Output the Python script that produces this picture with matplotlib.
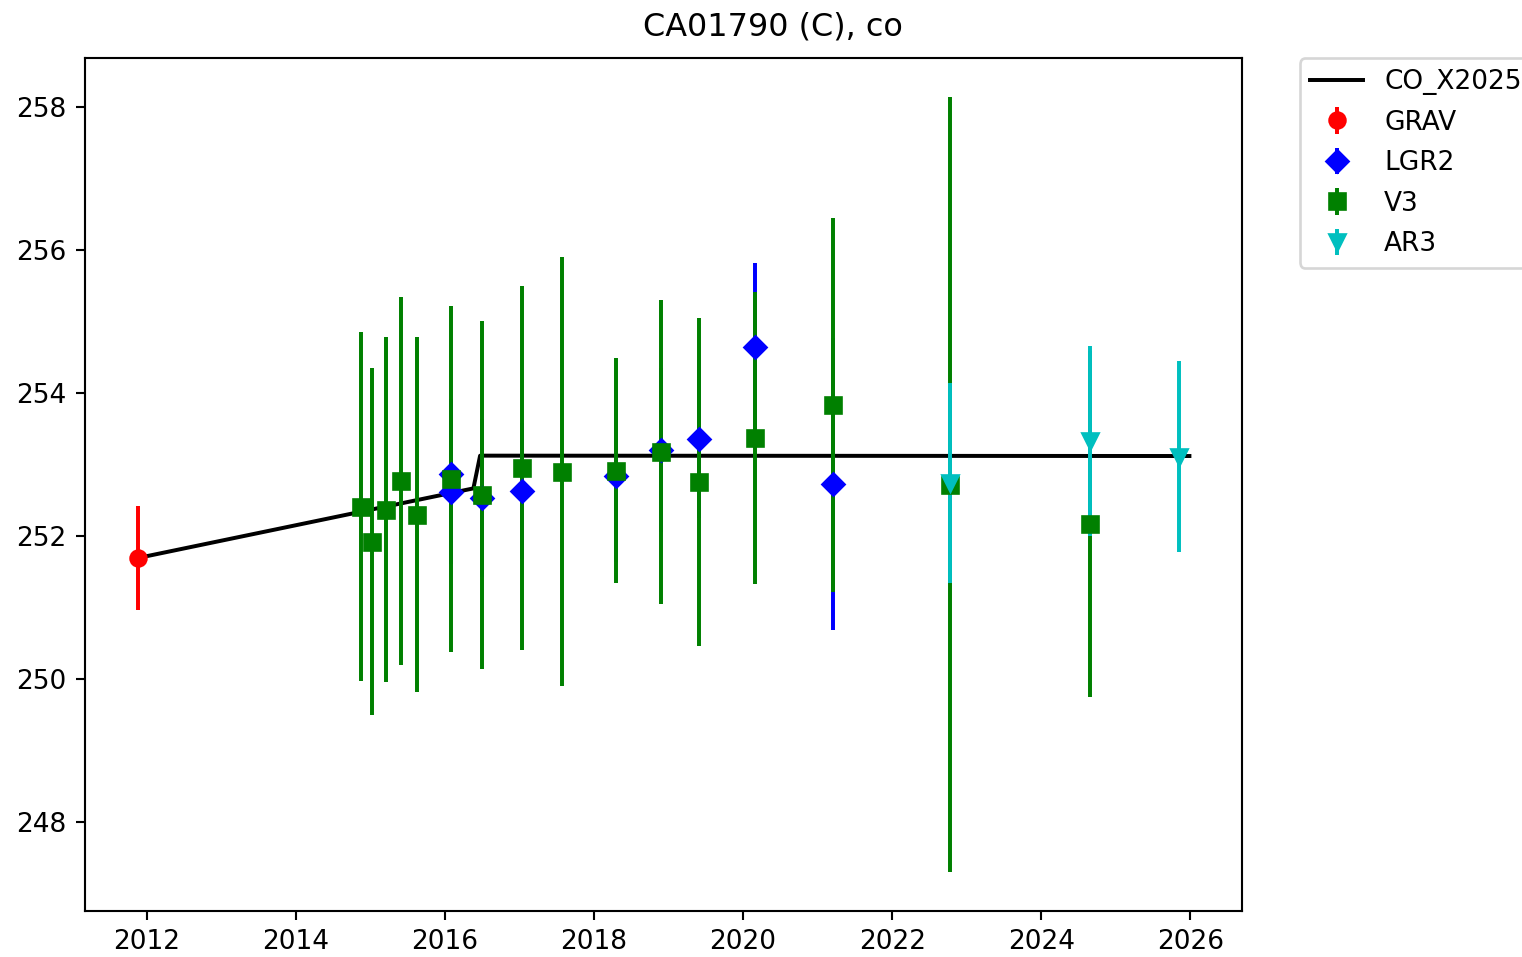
import matplotlib
matplotlib.use("Agg")
import matplotlib.pyplot as plt

# Model curve
model_t = [2011.873, 2016.38, 2016.47, 2025.99]
model_h = [251.692, 252.667, 253.125, 253.12]

# Gravimetric observation
grav_t = [2011.873]
grav_h = [251.692]
grav_err = [0.73]

# LGR2 solutions
lgr2_t = [2016.08, 2016.08, 2016.497, 2017.03, 2018.29, 2018.897, 2019.406, 2020.157, 2021.20]
lgr2_h = [252.867, 252.615, 252.531, 252.629, 252.839, 253.203, 253.357, 254.643, 252.727]
lgr2_err = [1.05, 1.00, 1.10, 0.95, 1.20, 1.15, 1.10, 1.18, 2.04]

# V3 solutions
v3_t = [2014.875, 2015.023, 2015.21, 2015.41, 2015.625, 2016.08, 2016.497, 2017.03,
        2017.57, 2018.29, 2018.897, 2019.406, 2020.157, 2021.20, 2022.78, 2024.66]
v3_h = [252.413, 251.923, 252.371, 252.769, 252.301, 252.797, 252.573, 252.951,
        252.902, 252.916, 253.175, 252.755, 253.371, 253.832, 252.720, 252.168]
v3_err = [2.448, 2.427, 2.413, 2.573, 2.483, 2.420, 2.434, 2.545,
          3.000, 1.573, 2.126, 2.294, 2.040, 2.615, 5.420, 2.420]

# AR3 solutions
ar3_t = [2022.78, 2024.66, 2025.85]
ar3_h = [252.741, 253.336, 253.112]
ar3_err = [1.40, 1.33, 1.336]

W, H, DPI = 1522, 957, 190
fig = plt.figure(figsize=(W / DPI, H / DPI), dpi=DPI)
ax = fig.add_axes([85 / W, 1 - 910.7 / H, (1242 - 85) / W, (910.7 - 58.5) / H])

ax.plot(model_t, model_h, 'k-', label='CO_X2025')
ax.errorbar(grav_t, grav_h, yerr=grav_err, fmt='ro', label='GRAV')
ax.errorbar(lgr2_t, lgr2_h, yerr=lgr2_err, fmt='bD', label='LGR2')
ax.errorbar(v3_t, v3_h, yerr=v3_err, fmt='gs', label='V3')
ax.errorbar(ar3_t, ar3_h, yerr=ar3_err, fmt='cv', label='AR3')

ax.set_xticks([2012, 2014, 2016, 2018, 2020, 2022, 2024, 2026])
ax.set_yticks([248, 250, 252, 254, 256, 258])
fig.text(773 / W, 1 - 27 / H, 'CA01790 (C), co', ha='center', va='center',
         fontsize=12.1)
ax.legend(loc='upper left', bbox_to_anchor=(1.05, 1), borderaxespad=0,
          labelspacing=0.55)

fig.savefig('out.png', dpi=DPI)
